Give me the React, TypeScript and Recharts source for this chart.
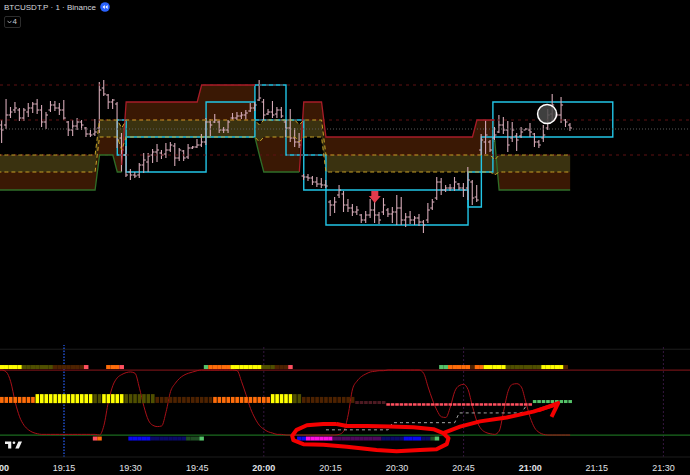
import {
  Area,
  Bar,
  ComposedChart,
  Line,
  ReferenceArea,
  ReferenceDot,
  ReferenceLine,
  Scatter,
  XAxis,
  YAxis,
} from "recharts";

// minutes after 19:00
const timeTicks = [0, 15, 30, 45, 60, 75, 90, 105, 120, 135, 150];
const timeLabels = ["19:00", "19:15", "19:30", "19:45", "20:00", "20:15", "20:30", "20:45", "21:00", "21:15", "21:30"];
const xDomain = [0.586, 155.99];

// OHLC from minute 1 on
const opens = [
  375, 375, 385, 390, 390, 382, 388, 392, 396, 390,
  378, 390, 395, 392, 390, 378, 370, 374, 378, 372,
  366, 366, 372, 412, 405, 398, 396, 362, 345, 328,
  325, 325, 335, 338, 345, 348, 347, 346, 350, 354,
  342, 349, 343, 352, 353, 355, 358, 378, 378, 378,
  370, 370, 382, 382, 384, 385, 389, 392, 400, 398,
  386, 388, 386, 390, 378, 372, 362, 358, 324, 323,
  322, 318, 316, 315, 298, 295, 305, 306, 295, 292,
  288, 285, 280, 285, 290, 285, 288, 290, 286, 288,
  292, 280, 283, 280, 282, 278, 280, 292, 302, 318,
  310, 312, 312, 316, 312, 312, 318, 303, 350, 358,
  358, 362, 368, 375, 370, 362, 364, 364, 370, 370,
  366, 358, 362, 372, 386, 386, 385, 380, 375,
];
const highs = [
  380, 401, 393, 398, 392, 392, 397, 398, 401, 395,
  388, 399, 399, 397, 400, 379, 380, 382, 380, 373,
  370, 381, 418, 420, 406, 401, 398, 367, 354, 331,
  328, 337, 347, 347, 351, 356, 350, 357, 358, 357,
  352, 350, 356, 354, 361, 366, 382, 381, 386, 380,
  373, 380, 387, 388, 388, 390, 397, 398, 420, 401,
  391, 399, 393, 393, 380, 391, 372, 367, 326, 326,
  324, 323, 322, 320, 300, 303, 315, 309, 301, 296,
  294, 286, 289, 301, 298, 288, 302, 292, 293, 305,
  303, 287, 289, 284, 286, 280, 297, 301, 323, 322,
  315, 316, 323, 317, 317, 333, 320, 315, 366, 380,
  360, 373, 385, 383, 379, 378, 367, 373, 372, 377,
  367, 360, 375, 391, 406, 388, 403, 381, 377,
];
const lows = [
  357, 371, 382, 387, 379, 379, 383, 387, 386, 373,
  371, 388, 389, 385, 380, 364, 364, 370, 370, 363,
  363, 364, 367, 404, 391, 391, 352, 328, 323, 320,
  322, 322, 327, 328, 337, 338, 341, 342, 348, 334,
  339, 339, 341, 351, 352, 353, 355, 364, 377, 367,
  367, 367, 380, 380, 381, 380, 388, 389, 399, 380,
  385, 382, 382, 382, 363, 358, 353, 352, 320, 319,
  315, 313, 312, 312, 284, 287, 302, 288, 288, 284,
  285, 277, 277, 282, 277, 276, 285, 283, 277, 275,
  275, 273, 276, 275, 274, 267, 277, 290, 300, 305,
  308, 309, 309, 310, 303, 300, 295, 298, 345, 346,
  348, 358, 367, 366, 348, 358, 349, 362, 370, 363,
  353, 352, 358, 370, 379, 383, 377, 373, 369,
];
const closes = [
  370, 385, 388, 392, 382, 390, 392, 396, 390, 378,
  385, 395, 392, 390, 382, 370, 374, 378, 375, 366,
  365, 368, 410, 406, 398, 400, 360, 350, 325, 325,
  324, 335, 340, 344, 348, 350, 345, 350, 355, 342,
  350, 342, 352, 353, 355, 358, 378, 375, 380, 370,
  370, 378, 382, 384, 385, 387, 392, 395, 402, 385,
  388, 385, 390, 384, 372, 362, 358, 355, 323, 322,
  318, 316, 315, 314, 295, 298, 310, 295, 292, 288,
  290, 280, 285, 290, 285, 280, 295, 286, 288, 292,
  280, 283, 280, 282, 278, 275, 290, 298, 318, 310,
  312, 312, 318, 312, 310, 320, 302, 300, 360, 365,
  350, 365, 375, 370, 355, 370, 360, 368, 371, 368,
  358, 355, 365, 385, 395, 385, 395, 378, 372,
];

// band edges from minute 0 on
const bandUpper = [
  345, 345, 345, 345, 345, 345, 345, 345, 345, 345,
  345, 345, 345, 345, 345, 345, 345, 345, 345, 345,
  345, 345, 345, 380, 380, 380, 380, 380, 372, 380,
  380, 380, 380, 380, 380, 380, 380, 380, 380, 380,
  380, 380, 380, 380, 380, 380, 380, 380, 380, 380,
  380, 380, 380, 380, 380, 380, 380, 380, 380, 375,
  380, 380, 380, 380, 380, 380, 380, 380, 375, 380,
  380, 380, 380, 380, 345, 345, 345, 345, 345, 345,
  345, 345, 345, 345, 345, 345, 345, 345, 345, 345,
  345, 345, 345, 345, 345, 345, 345, 345, 345, 345,
  345, 345, 345, 345, 345, 345, 345, 345, 345, 345,
  345, 345, 340, 345, 345, 345, 345, 345, 345, 345,
  345, 345, 345, 345, 345, 345, 345, 345, 345, 345,
];
const bandLower = [
  328, 328, 328, 328, 328, 328, 328, 328, 328, 328,
  328, 328, 328, 328, 328, 328, 328, 328, 328, 328,
  328, 328, 328, 363, 363, 363, 363, 363, 350, 363,
  363, 363, 363, 363, 363, 363, 363, 363, 363, 363,
  363, 363, 363, 363, 363, 363, 363, 363, 363, 363,
  363, 363, 363, 363, 363, 363, 363, 363, 363, 358,
  363, 363, 363, 363, 363, 363, 363, 363, 358, 363,
  363, 363, 363, 363, 328, 328, 328, 328, 328, 328,
  328, 328, 328, 328, 328, 328, 328, 328, 328, 328,
  328, 328, 328, 328, 328, 328, 328, 328, 328, 328,
  328, 328, 328, 328, 328, 328, 328, 328, 328, 328,
  328, 328, 325, 328, 328, 328, 328, 328, 328, 328,
  328, 328, 328, 328, 328, 328, 328, 328, 328, 328,
];
const n = null;
const bandTop = [
  n, n, n, n, n, n, n, n, n, n,
  n, n, n, n, n, n, n, n, n, n,
  n, n, n, n, n, n, n, n, 335, 398,
  398, 398, 398, 398, 398, 398, 398, 398, 398, 398,
  398, 398, 398, 398, 398, 398, 415, 415, 415, 415,
  415, 415, 415, 415, 415, 415, 415, 415, 415, n,
  n, n, n, n, n, n, n, n, 328, 398,
  398, 398, 398, 398, 363, 363, 363, 363, 363, 363,
  363, 363, 363, 363, 363, 363, 363, 363, 363, 363,
  363, 363, 363, 363, 363, 363, 363, 363, 363, 363,
  363, 363, 363, 363, 363, 363, 363, 363, 380, 380,
  380, 380, 380, n, n, n, n, n, n, n,
  n, n, n, n, n, n, n, n, n, n,
];
const bandBottom = [
  310, 310, 310, 310, 310, 310, 310, 310, 310, 310,
  310, 310, 310, 310, 310, 310, 310, 310, 310, 310,
  310, 310, 310, 345, 345, 345, 345, 328, 328, n,
  n, n, n, n, n, n, n, n, n, n,
  n, n, n, n, n, n, n, n, n, n,
  n, n, n, n, n, n, n, n, 363, 345,
  328, 328, 328, 328, 328, 328, 328, 328, 328, n,
  n, n, n, n, n, n, n, n, n, n,
  n, n, n, n, n, n, n, n, n, n,
  n, n, n, n, n, n, n, n, n, n,
  n, n, n, n, n, n, n, n, n, n,
  n, n, 360, 310, 310, 310, 310, 310, 310, 310,
  310, 310, 310, 310, 310, 310, 310, 310, 310, 310,
];

// oscillator from minute 0 on
const oscillator = [
  100, 100, 97, 82, 51, 28, 15, 8, 4, 2,
  1, 1, 1, 1, 1, 1, 1, 1, 1, 1,
  1, 1, 1, 0, 15, 51, 76, 88, 93, 96,
  97, 95, 72, 44, 23, 15, 13, 14, 36, 67,
  79, 87, 92, 95, 97, 99, 100, 100, 100, 100,
  100, 100, 100, 100, 99, 82, 62, 41, 26, 15,
  9, 5, 3, 1, 1, 0, 0, 0, 0, 0,
  0, 0, 0, 0, 0, 0, 0, 1, 6, 31,
  71, 83, 90, 94, 97, 98, 99, 99, 100, 100,
  100, 100, 100, 100, 100, 100, 95, 74, 54, 38,
  28, 27, 43, 67, 76, 78, 70, 44, 21, 9,
  4, 2, 1, 6, 36, 67, 78, 79, 74, 51,
  27, 11, 4, 1, 0, 0, 0, 0, 0, 0,
];
const stepLine = [
  n, n, n, n, n, n, n, n, n, n,
  n, n, n, n, n, n, n, n, n, n,
  n, n, n, n, n, n, n, n, n, n,
  n, n, n, n, n, n, n, n, n, n,
  n, n, n, n, n, n, n, n, n, n,
  n, n, n, n, n, n, n, n, n, n,
  n, n, n, n, n, n, n, n, n, n,
  n, n, n, n, 8, 8, 8, 8, 8, 8,
  8, 8, 8, 8, 8, 8, 8, 8, 8, 19,
  19, 19, 19, 19, 19, 19, 19, 19, 19, 19,
  19, 19, 19, 19, 34, 34, 34, 34, 34, 34,
  34, 34, 34, 34, 34, 34, 34, 34, 34, 44,
  n, n, n, n, n, n, n, n, n, n,
];

// [first minute, last minute, state]
const topRuns = [
  [0, 0, "olive"], [1, 5, "yellow"], [6, 12, "olive"], [13, 19, "brown"], [20, 20, "red"],
  [25, 27, "orange"], [28, 28, "red"], [47, 47, "green"], [48, 52, "orange"], [53, 59, "yellow"],
  [60, 62, "olive"], [63, 65, "brown"], [66, 66, "red"], [100, 101, "green"], [102, 106, "orange"],
  [107, 107, "brown"], [108, 109, "orange"], [110, 114, "yellow"], [115, 122, "olive"],
  [123, 127, "yellow"], [128, 128, "brown"],
];
const middleRuns = [
  [0, 8, "orange"], [9, 21, "yellow"], [22, 23, "olive"], [24, 28, "yellow"], [29, 35, "olive"],
  [36, 48, "brown"], [49, 61, "orange"], [62, 66, "yellow"], [67, 68, "olive"], [69, 80, "brown"],
  [81, 87, "dimRed"], [88, 120, "red"], [121, 129, "green"],
];
const bottomRuns = [
  [22, 22, "red"], [23, 23, "orange"], [30, 34, "blue"], [35, 42, "navy"], [43, 45, "darkGreen"],
  [46, 46, "green"], [68, 69, "blue"], [70, 75, "magenta"], [76, 86, "purple"], [87, 91, "navy"],
  [92, 95, "blue"], [96, 97, "navy"], [98, 98, "darkGreen"], [99, 99, "green"],
];

// level boxes: [from minute, to minute, low, high]
const levelBoxes = [
  [27, 29, 345, 380],
  [29, 47, 328, 363],
  [47, 58, 363, 398],
  [58, 65, 380, 415],
  [65, 69, 345, 380],
  [69, 74, 310, 345],
  [74, 106, 275, 310],
  [106, 109, 293, 328],
  [109, 111.6, 328, 363],
  [111.6, 138.6, 363, 398],
];
const priceLevels = [415, 380, 345];
const lastPrice = 371;
const sessionBreaks = [60, 105, 150];

// hand drawn marks on the lower pane
const loopT = [76.4, 73.4, 69.7, 67.4, 66.4, 66.65, 68.9, 73.4, 78.7, 85.4, 89.9, 95.2, 98.9, 101.2, 101.6, 100.4, 98.2, 93.7, 88.4, 83.2, 78.7, 76.4];
const loopV = [17, 17, 15, 8, -1, -8, -14, -15, -18, -23, -25, -23, -22, -14, -5, 3, 9, 12, 13, 14, 14, 17];
const swooshT = [100.4, 104.2, 108.7, 114.7, 120.7, 126.3];
const swooshV = [3, 13, 21, 27, 36, 48];
const headT = [121.8, 126.3, 124.8];
const headV = [38, 49, 28];

const minutes = oscillator.map((_, i) => i);

const rows = minutes.map((t, i) => {
  const c = i - 1;
  const top = bandTop[i];
  const bottom = bandBottom[i];
  return {
    t,
    open: i > 0 ? opens[c] : null,
    high: i > 0 ? highs[c] : null,
    low: i > 0 ? lows[c] : null,
    close: i > 0 ? closes[c] : null,
    range: i > 0 ? [lows[c], highs[c]] : null,
    upper: bandUpper[i],
    lower: bandLower[i],
    olive: [bandLower[i], bandUpper[i]],
    top,
    bottom,
    topFill: top == null ? null : [bandUpper[i], top],
    bottomFill: bottom == null ? null : [bottom, bandLower[i]],
    osc: oscillator[i],
    step: stepLine[i],
  };
});

const tileColors = {
  yellow: "#ffff00",
  olive: "#4f4f00",
  brown: "#4d2200",
  orange: "#ff6d0a",
  red: "#ff5060",
  dimRed: "#4d1a22",
  green: "#55c46a",
  darkGreen: "#1f4d24",
  blue: "#0a0af0",
  navy: "#0a0a66",
  magenta: "#ff10e0",
  purple: "#4d0a5c",
};

const middleShape = {
  yellow: { level: 56, h: 9 },
  olive: { level: 56, h: 9 },
  orange: { level: 54, h: 6 },
  brown: { level: 54, h: 6 },
  dimRed: { level: 50, h: 3 },
  red: { level: 47, h: 2.5 },
  green: { level: 51.5, h: 3 },
};

const expand = (runs, levelOf) =>
  runs.flatMap(([from, to, state]) => {
    const out = [];
    for (let t = from; t <= to; t++) out.push({ t, v: levelOf(state), state });
    return out;
  });

const topTiles = expand(topRuns, () => 104.6);
const middleTiles = expand(middleRuns, (s) => middleShape[s].level);
const bottomTiles = expand(bottomRuns, () => -5.4);
const pairs = (ts, vs) => ts.map((t, i) => ({ t, v: vs[i] }));

function OhlcBar({ x, y, width, height, payload }: any) {
  if (!payload || payload.high == null) return null;
  const cx = x + width / 2;
  const py = (v: number) => y + ((payload.high - v) / (payload.high - payload.low)) * height;
  return (
    <g stroke="#d4a9b6" strokeWidth={1.1}>
      <line x1={cx} x2={cx} y1={y} y2={y + height} />
      <line x1={cx - 2} x2={cx} y1={py(payload.open)} y2={py(payload.open)} />
      <line x1={cx} x2={cx + 2} y1={py(payload.close)} y2={py(payload.close)} />
    </g>
  );
}

function StripTile({ cx, cy, payload }: any) {
  return <rect x={cx - 2.25} y={cy - 2} width={4.5} height={4} fill={tileColors[payload.state]} />;
}

function MiddleTile({ cx, cy, payload }: any) {
  const h = middleShape[payload.state].h;
  return <rect x={cx - 1.8} y={cy - h / 2} width={3.6} height={h} fill={tileColors[payload.state]} />;
}

function DownArrow({ cx, cy }: any) {
  return (
    <polygon
      points={`${cx - 3.5},${cy - 6} ${cx + 3.5},${cy - 6} ${cx + 3.5},${cy - 1} ${cx + 6},${cy - 1} ${cx},${cy + 6} ${cx - 6},${cy - 1} ${cx - 3.5},${cy - 1}`}
      fill="#e23a4c"
    />
  );
}

function TimeTick({ x, y, payload }: any) {
  const label = timeLabels[timeTicks.indexOf(payload.value)];
  return (
    <text
      x={x}
      y={y + 6}
      textAnchor="middle"
      fill="#e2e4e8"
      fontSize={9}
      fontFamily="'Liberation Sans', sans-serif"
      fontWeight={payload.value % 60 === 0 ? 700 : 400}
    >
      {label}
    </text>
  );
}

const hiddenDot = () => <g />;

export default function App() {
  return (
    <div style={{ position: "absolute", left: 0, top: 0, width: 690, height: 475, background: "#000", overflow: "hidden" }}>
      <ComposedChart width={690} height={345} data={rows} margin={{ top: 0, right: 0, bottom: 0, left: 0 }}>
        <XAxis dataKey="t" type="number" domain={xDomain} allowDataOverflow hide />
        <YAxis type="number" domain={[155, 500]} allowDataOverflow hide />
        {priceLevels.map((p) => (
          <ReferenceLine key={p} y={p} stroke="#5e1012" strokeDasharray="3 4" />
        ))}
        <ReferenceLine y={lastPrice} stroke="#5a5a5a" strokeDasharray="1 2" />
        <Area dataKey="topFill" fill="#3a1804" fillOpacity={1} stroke="none" dot={false} activeDot={false} isAnimationActive={false} />
        <Area dataKey="bottomFill" fill="#3a1804" fillOpacity={1} stroke="none" dot={false} activeDot={false} isAnimationActive={false} />
        <Area dataKey="olive" fill="#3a3210" fillOpacity={1} stroke="none" dot={false} activeDot={false} isAnimationActive={false} />
        <Line dataKey="top" stroke="#a81c28" strokeWidth={1.3} dot={false} activeDot={false} isAnimationActive={false} />
        <Line dataKey="bottom" stroke="#2f6e28" strokeWidth={1.3} dot={false} activeDot={false} isAnimationActive={false} />
        <Line dataKey="upper" stroke="#c9a227" strokeWidth={1} strokeDasharray="4 3" dot={false} activeDot={false} isAnimationActive={false} />
        <Line dataKey="lower" stroke="#c9a227" strokeWidth={1} strokeDasharray="4 3" dot={false} activeDot={false} isAnimationActive={false} />
        <Bar dataKey="range" barSize={4} shape={OhlcBar} isAnimationActive={false} />
        {levelBoxes.map(([x1, x2, y1, y2]) => (
          <ReferenceArea key={x1} x1={x1} x2={x2} y1={y1} y2={y2} fill="none" stroke="#22c5e6" strokeWidth={1.4} ifOverflow="visible" />
        ))}
        <ReferenceDot x={85} y={303} shape={DownArrow} ifOverflow="visible" />
        <ReferenceDot x={123.8} y={386} r={9.5} fill="#4a4a4a" fillOpacity={0.85} stroke="#ffffff" strokeWidth={1.5} ifOverflow="visible" />
      </ComposedChart>

      <ComposedChart width={690} height={130} data={rows} margin={{ top: 0, right: 0, bottom: 0, left: 0 }}>
        <XAxis
          dataKey="t"
          type="number"
          domain={xDomain}
          allowDataOverflow
          ticks={timeTicks}
          interval={0}
          height={18}
          tick={TimeTick}
          tickLine={false}
          axisLine={{ stroke: "#1c1c1c" }}
        />
        <YAxis type="number" domain={[-33.8, 138.5]} allowDataOverflow hide />
        <ReferenceLine y={132} stroke="#1e1e1e" />
        {sessionBreaks.map((t) => (
          <ReferenceLine key={t} x={t} stroke="#35163f" strokeDasharray="2 2" />
        ))}
        <ReferenceLine x={15} stroke="#2962ff" strokeWidth={1.2} strokeDasharray="1.5 1.5" />
        <ReferenceLine y={100} stroke="#6f1216" strokeWidth={1.3} />
        <ReferenceLine y={0} stroke="#1b6b1f" strokeWidth={1.3} />
        <ReferenceLine segment={[{ x: 0, y: 0 }, { x: 68, y: 0 }]} stroke="#c4806e" strokeDasharray="3 4" />
        <ReferenceLine segment={[{ x: 130, y: 49 }, { x: 157, y: 49 }]} stroke="#6a5a5a" strokeDasharray="3 4" />
        <Line dataKey="osc" type="monotone" stroke="#a81018" strokeWidth={1} dot={false} activeDot={false} isAnimationActive={false} />
        <Line dataKey="step" stroke="#a8a8a8" strokeWidth={1} strokeDasharray="3 3" dot={false} activeDot={false} isAnimationActive={false} />
        <Scatter data={topTiles} dataKey="v" shape={StripTile} isAnimationActive={false} />
        <Scatter data={middleTiles} dataKey="v" shape={MiddleTile} isAnimationActive={false} />
        <Scatter data={bottomTiles} dataKey="v" shape={StripTile} isAnimationActive={false} />
        <Scatter data={pairs(loopT, loopV)} dataKey="v" shape={hiddenDot} line={{ stroke: "#f50000", strokeWidth: 4, strokeLinejoin: "round" }} lineType="joint" isAnimationActive={false} />
        <Scatter data={pairs(swooshT, swooshV)} dataKey="v" shape={hiddenDot} line={{ stroke: "#f50000", strokeWidth: 4, strokeLinejoin: "round" }} lineType="joint" isAnimationActive={false} />
        <Scatter data={pairs(headT, headV)} dataKey="v" shape={hiddenDot} line={{ stroke: "#f50000", strokeWidth: 4, strokeLinejoin: "round" }} lineType="joint" isAnimationActive={false} />
      </ComposedChart>

      <div style={{ position: "absolute", left: 4, top: 1, color: "#d6d8de", fontSize: 8, lineHeight: "13px", fontFamily: "'Liberation Sans', sans-serif", whiteSpace: "nowrap" }}>
        BTCUSDT.P · 1 · Binance
      </div>
      <svg style={{ position: "absolute", left: 100, top: 2 }} width={10} height={10}>
        <circle cx={5} cy={5} r={4.8} fill="#2962ff" />
        <path d="M4.8 3 L2.6 5 L4.8 7 Z M7.6 3 L5.4 5 L7.6 7 Z" fill="#fff" />
      </svg>
      <div style={{ position: "absolute", left: 4, top: 16, width: 17, height: 12, boxSizing: "border-box", border: "1px solid #2c2c2c", borderRadius: 2, color: "#c8cad0", fontSize: 8, lineHeight: "10px", fontFamily: "'Liberation Sans', sans-serif", textAlign: "right", paddingRight: 3 }}>
        4
      </div>
      <svg style={{ position: "absolute", left: 7, top: 20 }} width={5} height={4}>
        <path d="M0.5 0.8 L2.5 3 L4.5 0.8" fill="none" stroke="#c8cad0" strokeWidth={0.8} />
      </svg>
      <svg style={{ position: "absolute", left: 5, top: 441 }} width={17} height={8} viewBox="0 0 38 16">
        <path d="M0 0h14v16h-7v-10h-7z M30 0h8l-7 16h-8z" fill="#f0f0f0" />
        <circle cx={20} cy={3} r={3} fill="#f0f0f0" />
      </svg>
    </div>
  );
}
